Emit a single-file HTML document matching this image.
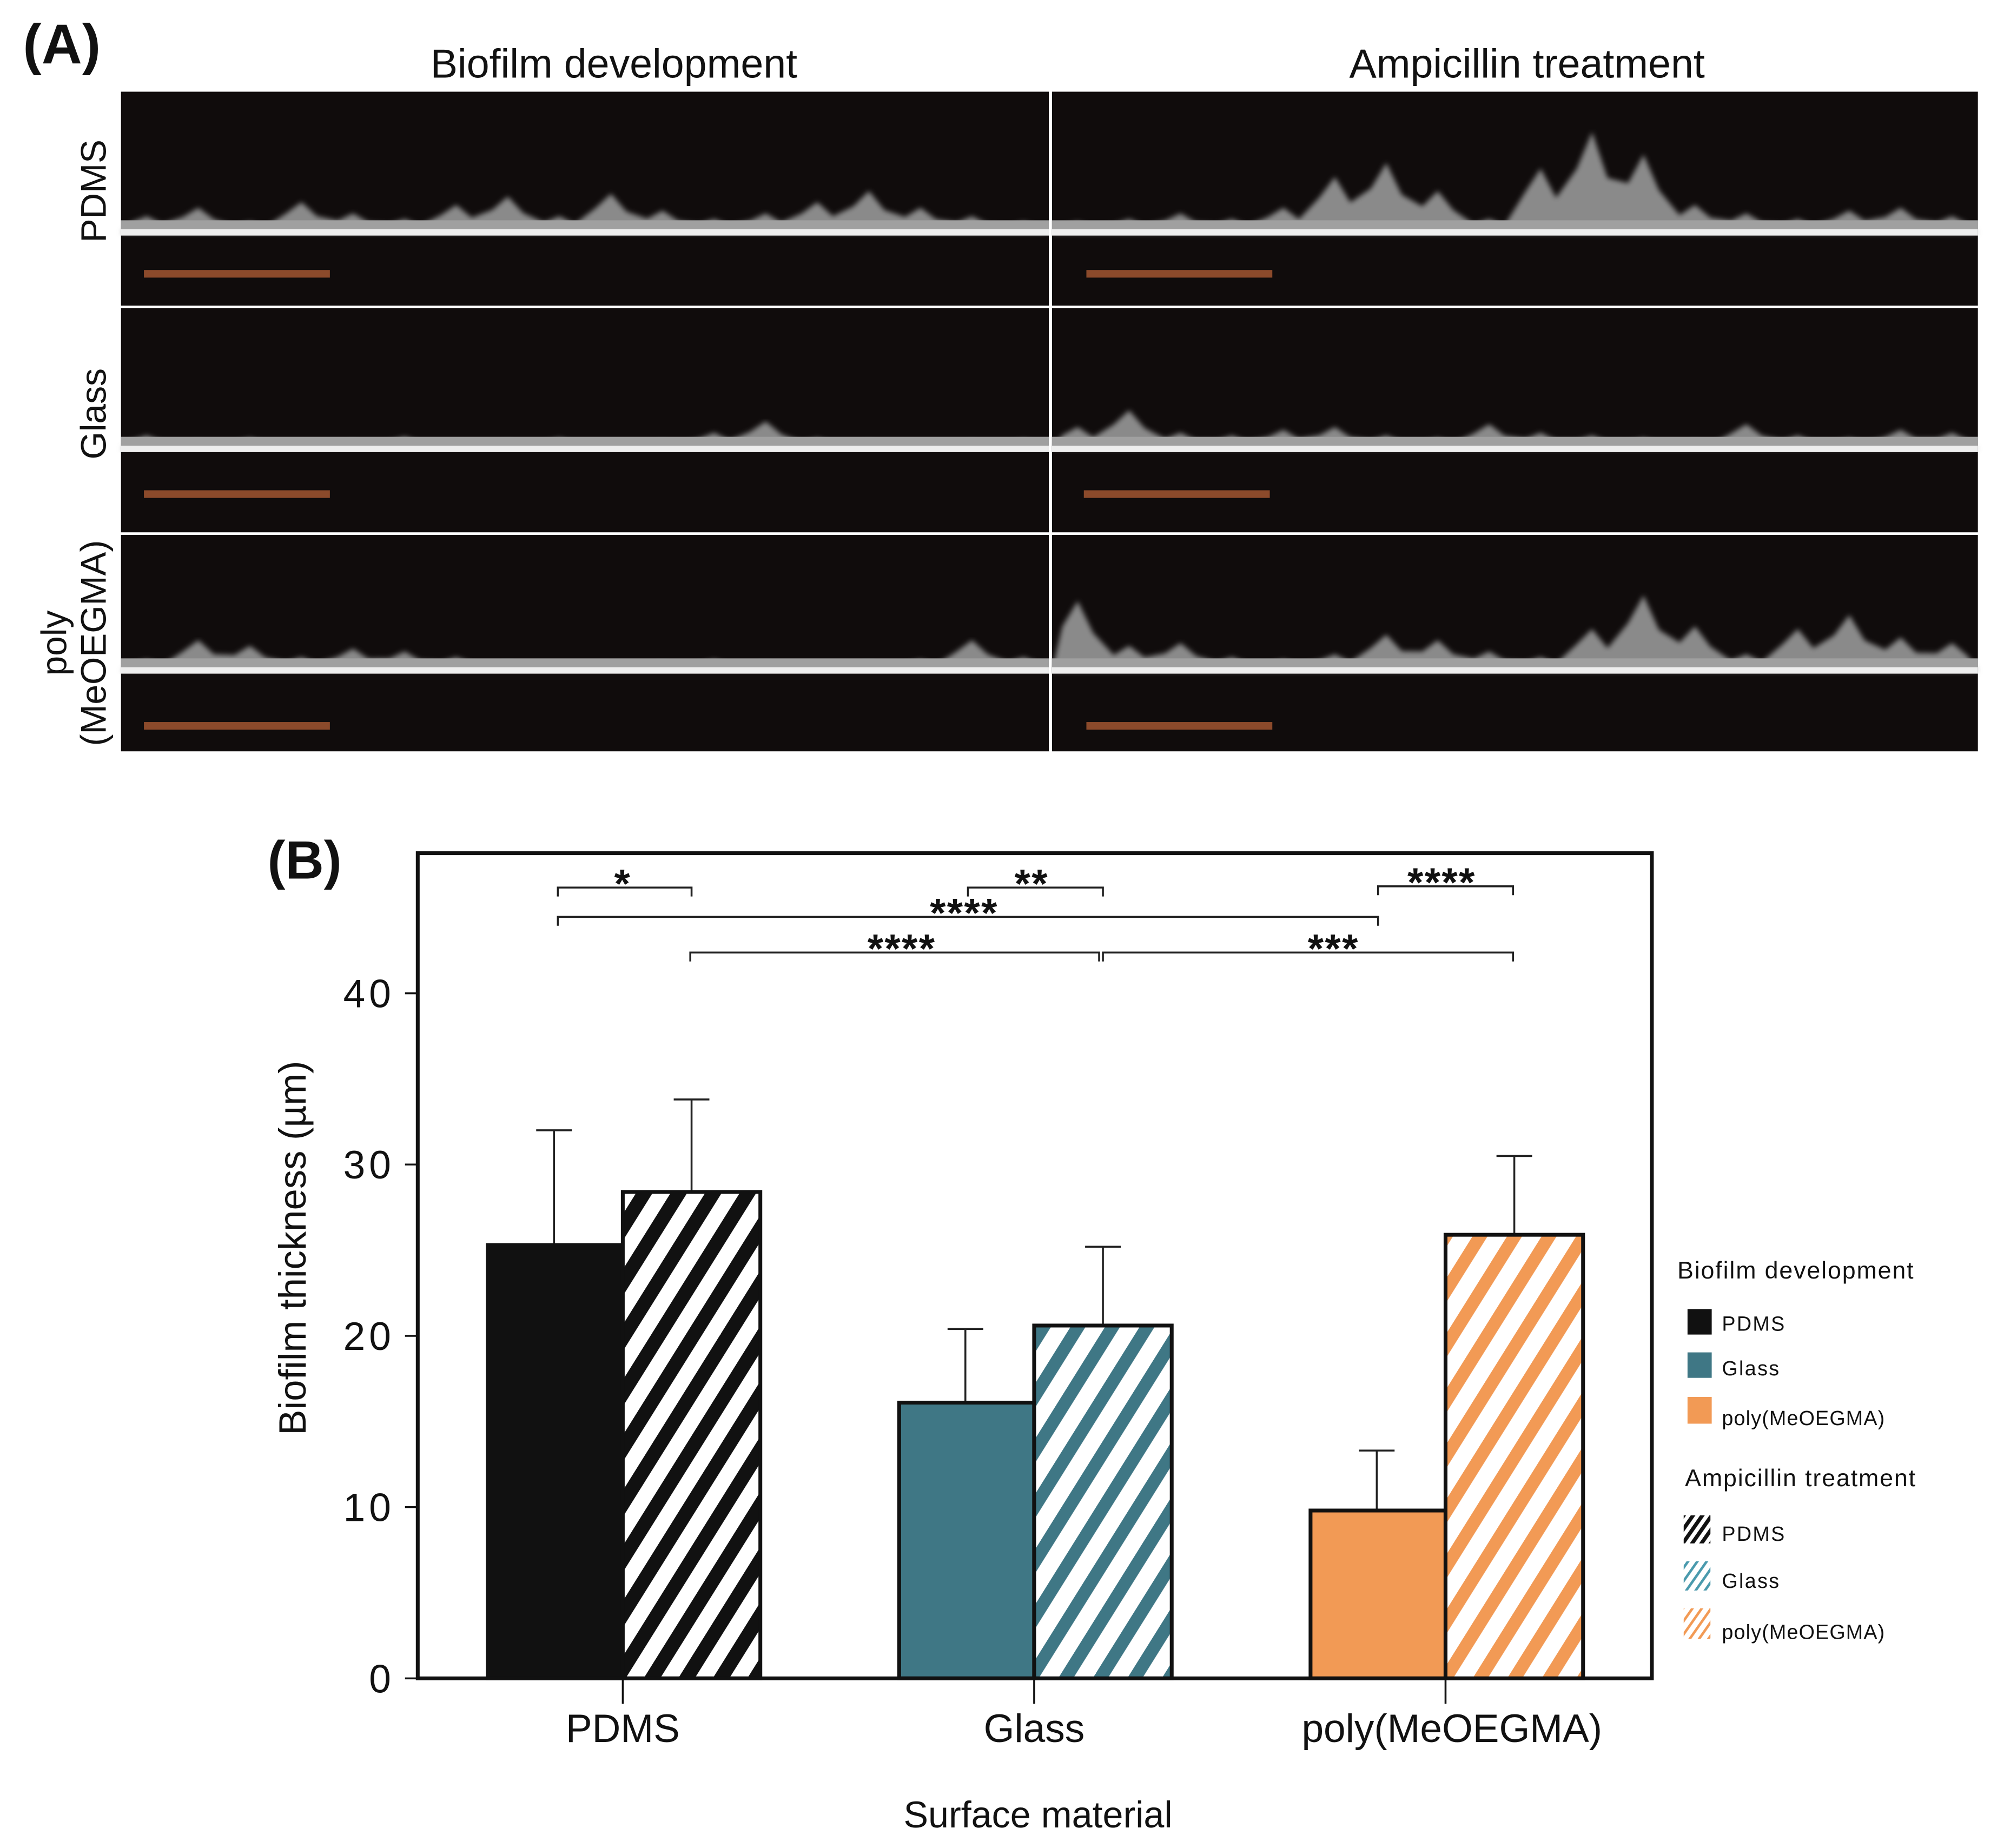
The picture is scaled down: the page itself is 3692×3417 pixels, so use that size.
<!DOCTYPE html>
<html><head><meta charset="utf-8">
<style>
html,body{margin:0;padding:0;background:#fff;}
svg{display:block;}
text{font-family:"Liberation Sans",sans-serif;}
</style></head>
<body>
<svg id="fig" width="3692" height="3417" viewBox="0 0 1568 1451.2" xmlns="http://www.w3.org/2000/svg">
<defs>
  <pattern id="hatch-black" patternUnits="userSpaceOnUse" width="23" height="23" patternTransform="rotate(32)">
    <rect width="23" height="23" fill="#fff"/><rect width="11" height="23" fill="#111"/></pattern>
  <pattern id="hatch-teal" patternUnits="userSpaceOnUse" width="23" height="23" patternTransform="rotate(32)">
    <rect width="23" height="23" fill="#fff"/><rect width="10" height="23" fill="#3f7785"/></pattern>
  <pattern id="hatch-orange" patternUnits="userSpaceOnUse" width="23" height="23" patternTransform="rotate(32)">
    <rect width="23" height="23" fill="#fff"/><rect width="10" height="23" fill="#f29a55"/></pattern>
  <pattern id="lh-black" patternUnits="userSpaceOnUse" width="6" height="6" patternTransform="rotate(35)">
    <rect width="6" height="6" fill="#fff"/><rect width="3" height="6" fill="#111"/></pattern>
  <pattern id="lh-teal" patternUnits="userSpaceOnUse" width="6" height="6" patternTransform="rotate(35)">
    <rect width="6" height="6" fill="#fff"/><rect width="2" height="6" fill="#4a9aad"/></pattern>
  <pattern id="lh-orange" patternUnits="userSpaceOnUse" width="6" height="6" patternTransform="rotate(35)">
    <rect width="6" height="6" fill="#fff"/><rect width="2" height="6" fill="#f29a55"/></pattern>
  <filter id="blur2"><feGaussianBlur stdDeviation="2"/></filter>
</defs>

<!-- Panel A -->
<text x="18" y="50" font-size="44" font-weight="bold" fill="#111">(A)</text>
<text x="482" y="61" font-size="32" text-anchor="middle" fill="#111">Biofilm development</text>
<text x="1199" y="61" font-size="32" text-anchor="middle" fill="#111">Ampicillin treatment</text>
<g id="micro"></g>
<text transform="translate(83,150) rotate(-90)" font-size="28" text-anchor="middle" fill="#111">PDMS</text>
<text transform="translate(83,325) rotate(-90)" font-size="28" text-anchor="middle" fill="#111">Glass</text>
<text transform="translate(52,505) rotate(-90)" font-size="28" text-anchor="middle" fill="#111">poly</text>
<text transform="translate(83,505) rotate(-90)" font-size="28" text-anchor="middle" fill="#111">(MeOEGMA)</text>

<!-- Panel B -->
<text x="210" y="690" font-size="42" font-weight="bold" fill="#111">(B)</text>
<g id="chart"></g>
<text transform="translate(240,980) rotate(-90)" font-size="30" text-anchor="middle" fill="#111">Biofilm thickness (µm)</text>
<text x="815" y="1435" font-size="29" text-anchor="middle" fill="#111">Surface material</text>

<!-- Legend -->
<g>
  <text x="1317" y="1004" font-size="19" fill="#111" letter-spacing="0.8">Biofilm development</text>
  <rect x="1325" y="1028" width="19" height="20" fill="#111"/>
  <text x="1352" y="1045" font-size="16" fill="#111" letter-spacing="1">PDMS</text>
  <rect x="1325" y="1062" width="19" height="20" fill="#3f7785"/>
  <text x="1352" y="1080" font-size="16" fill="#111" letter-spacing="1">Glass</text>
  <rect x="1325" y="1097" width="19" height="21" fill="#f29a55"/>
  <text x="1352" y="1119" font-size="16" fill="#111" letter-spacing="0.5">poly(MeOEGMA)</text>
  <text x="1323" y="1167" font-size="19" fill="#111" letter-spacing="0.8">Ampicillin treatment</text>
  <rect x="1322" y="1190" width="21" height="22" fill="url(#lh-black)"/>
  <text x="1352" y="1210" font-size="16" fill="#111" letter-spacing="1">PDMS</text>
  <rect x="1322" y="1226" width="21" height="23" fill="url(#lh-teal)"/>
  <text x="1352" y="1247" font-size="16" fill="#111" letter-spacing="1">Glass</text>
  <rect x="1322" y="1263" width="21" height="24" fill="url(#lh-orange)"/>
  <text x="1352" y="1287" font-size="16" fill="#111" letter-spacing="0.5">poly(MeOEGMA)</text>
</g>
</svg>
<script>
const NS = "http://www.w3.org/2000/svg";
// chart data
const categories = ["PDMS", "Glass", "poly(MeOEGMA)"];
const developmentValues = [25.3, 16.1, 9.8];
const developmentErrors = [6.7, 4.3, 3.5];
const ampicillinValues = [28.4, 20.6, 25.9];
const ampicillinErrors = [5.4, 4.6, 4.6];
const yTicks = [0, 10, 20, 30, 40];
const yTickLabels = ["0", "10", "20", "30", "40"];
const sigLabels = ["*", "**", "****", "****", "****", "***"];

function mk(tag, attrs, parent){ const e=document.createElementNS(NS,tag); for(const k in attrs) e.setAttribute(k,attrs[k]); parent.appendChild(e); return e; }

// Microscopy panels (decorative)
const micro = document.getElementById('micro');
const cols = [[95,824,113],[826,1553,853]];
const rows = [[72,240,183,215],[242,418,353,388],[420,590,527,570]];
const heights = [[12,18,8,22,14,10,20,26,12,28,16,10,14,22,30,18,12,8],
                 [10,6,8,5,6,9,4,6,8,5,6,12,20,8,6,5,6,7],
                 [8,22,18,10,16,14,10,6,4,5,6,8,6,5,6,8,22,10]];
const heights2 = [[8,10,14,10,18,40,50,30,10,46,72,56,20,14,10,16,18,12],
                  [16,28,12,10,14,16,10,8,18,12,10,8,6,18,10,8,14,12],
                  [50,18,20,10,8,12,26,22,14,10,30,54,32,12,30,40,24,20]];
rows.forEach((r,ri)=>{
  cols.forEach((c,ci)=>{
    const g = mk('g',{},micro);
    
    
    mk('rect',{x:c[0],y:r[0],width:c[1]-c[0],height:r[1]-r[0],fill:'#100c0c'},g);
    const h = ci===0?heights[ri]:heights2[ri];
    const w=(c[1]-c[0])/h.length;
    let d='M'+c[0]+','+r[2];
    h.forEach((v,i)=>{ d+=' L'+(c[0]+i*w+w*0.2)+','+(r[2]-v*0.7)+' L'+(c[0]+i*w+w*0.5)+','+(r[2]-v*1.1)+' L'+(c[0]+i*w+w*0.8)+','+(r[2]-v*0.6); });
    d+=' L'+c[1]+','+r[2]+' Z';
    mk('path',{d:d,fill:'#8a8a8a',filter:'url(#blur2)'},g);
    mk('rect',{x:c[0],y:r[2]-10,width:c[1]-c[0],height:8,fill:'#a0a0a0'},g);
    mk('rect',{x:c[0],y:r[2]-3,width:c[1]-c[0],height:5,fill:'#eeeeee'},g);
    mk('rect',{x:c[2]-(ri==1&&ci==1?2:0),y:r[3]-3,width:146,height:6,fill:'#8b4a2b'},g);
  });
});
mk('line',{x1:824.5,y1:72,x2:824.5,y2:590,stroke:'#fff','stroke-width':2},micro);

// Chart
const chart = document.getElementById('chart');
const X0=328, X1=1297, YTOP=670, YBOT=1318;
function yScale(v){ return 1318 - v*(1318-780)/40; }
const groupCenters = [489, 812, 1135];
const bw = 107;
const solidColors = ['#111111','#3f7785','#f29a55'];
const hatchFills = ['url(#hatch-black)','url(#hatch-teal)','url(#hatch-orange)'];

yTicks.forEach((t,i)=>{
  const y=yScale(t);
  const l=mk('line',{x1:318,y1:y,x2:X0,y2:y,stroke:'#111','stroke-width':1.5},chart);
  
  
  const tx=mk('text',{x:310,y:y+11,'font-size':31,'text-anchor':'end',fill:'#111','letter-spacing':'3'},chart);
  tx.textContent=yTickLabels[i];
  
  
});

categories.forEach((c,i)=>{
  const cx=groupCenters[i];
  const eb1=mk('path',{d:'M'+(cx-54)+','+yScale(developmentValues[i])+' V'+yScale(developmentValues[i]+developmentErrors[i])+' M'+(cx-68)+','+yScale(developmentValues[i]+developmentErrors[i])+' H'+(cx-40),stroke:'#222','stroke-width':1.5,fill:'none'},chart);
  
  
  const eb2=mk('path',{d:'M'+(cx+54)+','+yScale(ampicillinValues[i])+' V'+yScale(ampicillinValues[i]+ampicillinErrors[i])+' M'+(cx+40)+','+yScale(ampicillinValues[i]+ampicillinErrors[i])+' H'+(cx+68),stroke:'#222','stroke-width':1.5,fill:'none'},chart);
  
  
  const y1=yScale(developmentValues[i]);
  const b1=mk('rect',{x:cx-bw+1,y:y1,width:bw-1,height:YBOT-y1,fill:solidColors[i],stroke:'#111','stroke-width':3},chart);
  
  
  const y2=yScale(ampicillinValues[i]);
  const b2=mk('rect',{x:cx,y:y2,width:bw+1,height:YBOT-y2,fill:hatchFills[i],stroke:'#111','stroke-width':3},chart);
  
  
  const xt=mk('line',{x1:cx,y1:YBOT,x2:cx,y2:1338,stroke:'#111','stroke-width':1.5},chart);
  
  
  const lab=mk('text',{x:cx+(i==2?5:0),y:1368,'font-size':31,'text-anchor':'middle',fill:'#111'},chart);
  lab.textContent=c;
  
  
});

const box=mk('rect',{x:X0,y:YTOP,width:X1-X0,height:YBOT-YTOP,fill:'none',stroke:'#111','stroke-width':3},chart);



const brackets=[[438,543,697,489],[760,866,697,810],[1082,1188,696,1132],[438,1082,720,757],[542,863,748,708],[866,1188,748,1047]];
brackets.forEach((b,i)=>{
  const p=mk('path',{d:'M'+b[0]+','+(b[2]+7)+' V'+b[2]+' H'+b[1]+' V'+(b[2]+7),stroke:'#222','stroke-width':1.5,fill:'none'},chart);
  
  
  const t=mk('text',{x:b[3],y:b[2]+8,'font-size':32,'font-weight':'bold','text-anchor':'middle',fill:'#111','letter-spacing':'1'},chart);
  t.textContent=sigLabels[i];
  
  
});
</script>
</body></html>
